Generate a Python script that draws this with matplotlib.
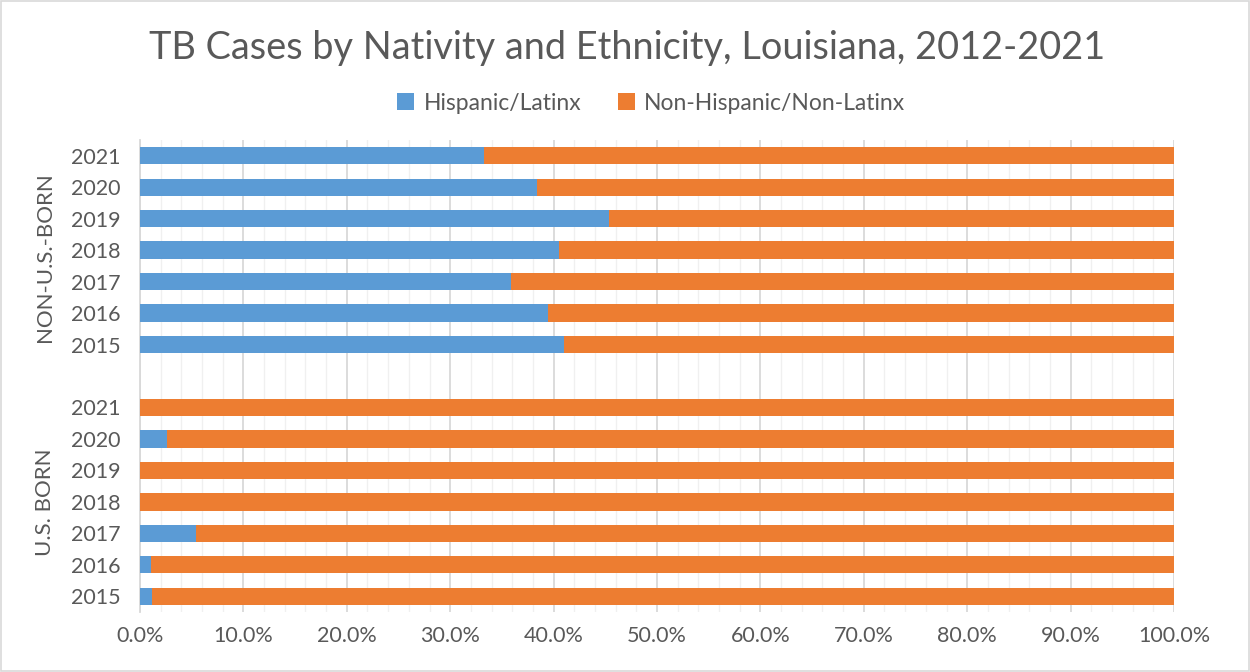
import numpy as np
import matplotlib.pyplot as plt
from matplotlib.ticker import MultipleLocator, FuncFormatter
from matplotlib.patches import Rectangle

plt.rcParams['font.family'] = ['Lato', 'DejaVu Sans']

years = ['2015', '2016', '2017', '2018', '2019', '2020', '2021']
# share of cases that are Hispanic/Latinx, in percent
us_born_hisp = [1.2, 1.1, 5.4, 0.0, 0.0, 2.6, 0.0]
non_us_hisp = [41.0, 39.5, 35.9, 40.5, 45.4, 38.4, 33.3]

blue = '#5b9bd5'
orange = '#ed7d31'
text_col = '#595959'

# U.S. born at the bottom, one empty slot, then non-U.S.-born
labels = years + [''] + years
hisp = us_born_hisp + [np.nan] + non_us_hisp
hisp = np.array(hisp)
other = 100 - hisp
ypos = np.arange(len(labels))

fig = plt.figure(figsize=(12.5, 6.72), dpi=100)
ax = fig.add_axes([0.112, 0.0893, 0.8272, 0.7024])

ax.barh(ypos, hisp, height=0.55, color=blue, label='Hispanic/Latinx', zorder=3)
ax.barh(ypos, other, left=hisp, height=0.55, color=orange,
        label='Non-Hispanic/Non-Latinx', zorder=3)

ax.set_xlim(0, 100)
ax.set_ylim(-0.5, len(labels) - 0.5)
ax.set_yticks(ypos)
ax.set_yticklabels(labels)
ax.xaxis.set_major_locator(MultipleLocator(10))
ax.xaxis.set_minor_locator(MultipleLocator(2))
ax.xaxis.set_major_formatter(FuncFormatter(lambda v, p: f'{v:.1f}%'))
ax.grid(axis='x', which='major', color='#d9d9d9', linewidth=1.3, zorder=0)
ax.grid(axis='x', which='minor', color='#f0f0f0', linewidth=1.0, zorder=0)
ax.tick_params(axis='both', which='both', length=0, labelsize=15.5, colors=text_col)
ax.tick_params(axis='x', pad=10)
ax.tick_params(axis='y', pad=14)
for s in ['top', 'right', 'bottom']:
    ax.spines[s].set_visible(False)
ax.spines['left'].set_color('#d9d9d9')
ax.spines['left'].set_linewidth(1.3)

# group names along the left side
fig.text(0.036, 1 - 257 / 672, 'NON-U.S.-BORN', rotation=90, ha='center',
         va='center', fontsize=16, color=text_col)
fig.text(0.036, 1 - 502 / 672, 'U.S. BORN', rotation=90, ha='center',
         va='center', fontsize=16, color=text_col)

fig.suptitle('TB Cases by Nativity and Ethnicity, Louisiana, 2012-2021',
             x=0.502, y=1 - 48 / 672, va='center', fontsize=27.3, color=text_col,
             fontweight='normal')
fig.legend(loc='center', bbox_to_anchor=(0.521, 1 - 103 / 672), ncol=2,
           frameon=False, fontsize=16.5, labelcolor=text_col, handlelength=0.75,
           handleheight=0.75, columnspacing=1.6, handletextpad=0.4)

fig.patches.append(Rectangle((0.001, 0.001), 0.998, 0.998, transform=fig.transFigure,
                             fill=False, edgecolor='#d9d9d9', linewidth=1.2))

fig.savefig('out.png', dpi=100)
